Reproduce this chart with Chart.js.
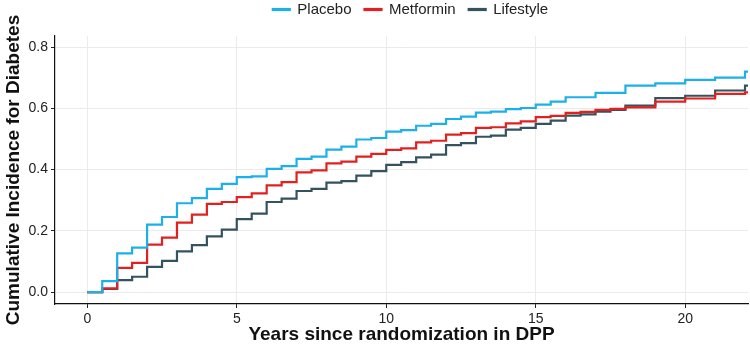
<!DOCTYPE html>
<html lang="en">
<head>
  <meta charset="UTF-8">
  <title>Cumulative Incidence for Diabetes</title>
  <script src="https://cdn.jsdelivr.net/npm/chart.js"></script>
  <style>
    body { margin: 0; padding: 0; background: #fff; }
    #wrap { width: 750px; height: 353px; }
  </style>
</head>
<body>
  <div id="wrap"><canvas id="cumInc" width="750" height="353"></canvas></div>

  <script>
    // Years since randomization (step times)
    const years = [0, 0.5, 1, 1.5, 2, 2.5, 3, 3.5, 4, 4.5, 5, 5.5, 6, 6.5, 7, 7.5, 8, 8.5, 9, 9.5,
      10, 10.5, 11, 11.5, 12, 12.5, 13, 13.5, 14, 14.5, 15, 15.5, 16, 16.5, 17, 17.5, 18, 19, 20, 21, 22, 22.1];

    const placebo = [0, 0.036, 0.126, 0.145, 0.22, 0.245, 0.29, 0.307, 0.337, 0.353, 0.375, 0.378, 0.402, 0.411,
      0.435, 0.442, 0.465, 0.475, 0.498, 0.503, 0.524, 0.529, 0.543, 0.549, 0.565, 0.573, 0.586, 0.589,
      0.597, 0.601, 0.612, 0.622, 0.636, 0.636, 0.65, 0.65, 0.674, 0.681, 0.693, 0.7, 0.72, 0.72];

    const metformin = [0, 0.012, 0.079, 0.095, 0.155, 0.178, 0.227, 0.253, 0.288, 0.294, 0.31, 0.322, 0.348, 0.359,
      0.391, 0.397, 0.42, 0.426, 0.442, 0.451, 0.464, 0.469, 0.489, 0.494, 0.514, 0.519, 0.536, 0.538,
      0.551, 0.557, 0.571, 0.575, 0.585, 0.588, 0.595, 0.598, 0.603, 0.622, 0.632, 0.647, 0.652, 0.652];

    const lifestyle = [0, 0.01, 0.039, 0.05, 0.082, 0.102, 0.133, 0.153, 0.182, 0.204, 0.238, 0.256, 0.294, 0.305,
      0.33, 0.337, 0.357, 0.362, 0.38, 0.395, 0.415, 0.424, 0.44, 0.449, 0.48, 0.486, 0.507, 0.511,
      0.53, 0.536, 0.549, 0.56, 0.576, 0.58, 0.589, 0.595, 0.609, 0.633, 0.641, 0.658, 0.674, 0.674];

    const xTicks = [0, 5, 10, 15, 20];
    const yTicks = [0, 0.2, 0.4, 0.6, 0.8];

    const groups = ["Placebo", "Metformin", "Lifestyle"];
    const colors = ["#1cb0eb", "#e2201f", "#35525f"];
    const series = [placebo, metformin, lifestyle];

    const textColor = "#222";
    const gridColor = "#ebebeb";
    const fontFamily = "Liberation Sans, Arial";

    const datasets = groups.map((g, i) => ({
      label: g,
      data: years.map((t, j) => ({ x: t, y: series[i][j] })),
      borderColor: colors[i],
      backgroundColor: colors[i],
      borderWidth: 2.2,
      stepped: true,
      pointRadius: 0,
      fill: false
    }));

    // nudge the legend up and right, like the ggplot original
    const legendNudge = {
      id: "legendNudge",
      afterLayout(chart) {
        const lg = chart.legend;
        lg.top -= 9; lg.bottom -= 9;
        lg.left += 9; lg.right += 9;
      }
    };

    const ctx = document.getElementById("cumInc").getContext("2d");
    new Chart(ctx, {
      type: "line",
      data: { datasets: datasets },
      plugins: [legendNudge],
      options: {
        responsive: false,
        animation: false,
        layout: { padding: { top: -2, right: 2, bottom: 0, left: 0 } },
        plugins: {
          legend: {
            position: "top",
            fullSize: false,
            labels: {
              color: textColor,
              font: { family: fontFamily, size: 15 },
              boxWidth: 17,
              boxHeight: 1,
              padding: 13
            }
          },
          tooltip: { enabled: false }
        },
        scales: {
          x: {
            type: "linear",
            min: -1.08,
            max: 22.1,
            afterFit: (axis) => { axis.height = 49; },
            afterBuildTicks: (axis) => { axis.ticks = xTicks.map(v => ({ value: v })); },
            grid: { color: gridColor, tickColor: "#222", tickLength: 4, lineWidth: 1 },
            border: { display: true, color: "#111", width: 1.2 },
            ticks: {
              color: textColor,
              padding: 3,
              font: { family: fontFamily, size: 14 }
            },
            title: {
              display: true,
              text: "Years since randomization in DPP",
              color: "#111",
              font: { family: fontFamily, size: 19, weight: "bold" },
              padding: { top: 0, bottom: 7 }
            }
          },
          y: {
            type: "linear",
            min: -0.039,
            max: 0.836,
            afterFit: (axis) => { axis.width = 55; },
            afterBuildTicks: (axis) => { axis.ticks = yTicks.map(v => ({ value: v })); },
            grid: { color: gridColor, tickColor: "#222", tickLength: 4, lineWidth: 1 },
            border: { display: true, color: "#111", width: 1.2 },
            ticks: {
              color: textColor,
              padding: 3,
              font: { family: fontFamily, size: 14 },
              callback: (v) => v.toFixed(1)
            },
            title: {
              display: true,
              text: "Cumulative Incidence for Diabetes",
              color: "#111",
              font: { family: fontFamily, size: 19, weight: "bold" },
              padding: { top: 2, bottom: 0 }
            }
          }
        }
      }
    });
  </script>
</body>
</html>
